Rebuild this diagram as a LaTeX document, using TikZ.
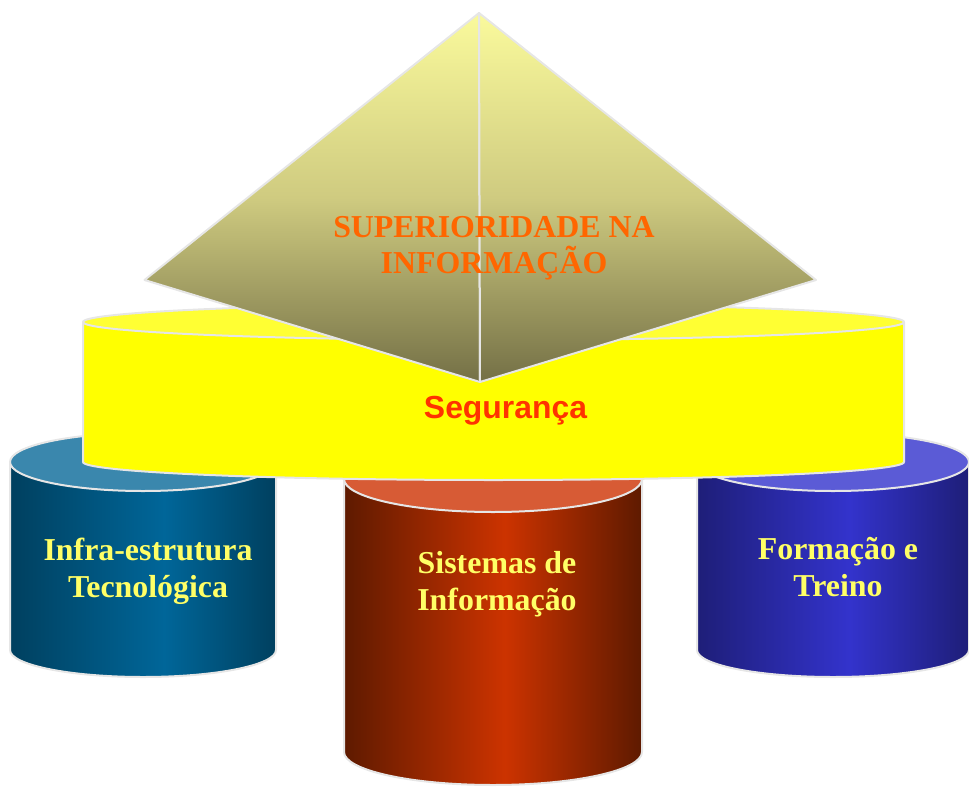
\documentclass[tikz,border=0pt]{standalone}
\usepackage{fontspec}
\setmainfont{Liberation Serif}
\setsansfont{Liberation Sans}
\definecolor{edgegray}{HTML}{E6E6E6}
\definecolor{LBd}{HTML}{00405F}
\definecolor{LBp}{HTML}{006699}
\definecolor{LBtop}{HTML}{3A87AD}
\definecolor{MRd}{HTML}{5E1A00}
\definecolor{MRp}{HTML}{CC3300}
\definecolor{MRtop}{HTML}{D75B35}
\definecolor{RBd}{HTML}{1E1E78}
\definecolor{RBp}{HTML}{3333CC}
\definecolor{RBtop}{HTML}{5B5BD6}
\definecolor{segbody}{HTML}{FFFF00}
\definecolor{segtop}{HTML}{FFFF33}
\definecolor{pyrtop}{HTML}{FAFA9C}
\definecolor{pyrmid}{HTML}{CFCB80}
\definecolor{pyrbot}{HTML}{747046}
\definecolor{lbltext}{HTML}{FFFF66}
\definecolor{pyrtext}{HTML}{FF6600}
\definecolor{segtext}{HTML}{FF3300}
\pgfdeclarehorizontalshading{leftbody}{100bp}{color(0bp)=(LBd); color(25bp)=(LBd); color(54bp)=(LBp); color(75bp)=(LBd); color(100bp)=(LBd)}
\pgfdeclarehorizontalshading{midbody}{100bp}{color(0bp)=(MRd); color(25bp)=(MRd); color(52bp)=(MRp); color(75bp)=(MRd); color(100bp)=(MRd)}
\pgfdeclarehorizontalshading{rightbody}{100bp}{color(0bp)=(RBd); color(25bp)=(RBd); color(53bp)=(RBp); color(75bp)=(RBd); color(100bp)=(RBd)}
\tikzset{
  outl/.style={draw=edgegray, line width=2bp, line join=round},
  cyltext/.style={font=\bfseries\fontsize{32}{37}\selectfont, text=lbltext, align=center, inner sep=0pt, anchor=base},
}
\begin{document}
\begin{tikzpicture}[x=1bp,y=-1bp]
\useasboundingbox (0,0) rectangle (969,787);
% left cylinder
\path[outl, shading=leftbody] (10,462) -- (10,650) arc[start angle=180, end angle=360, x radius=133bp, y radius=27bp] -- (276,462) -- cycle;
\path[outl, fill=LBtop] (143,462) ellipse[x radius=133bp, y radius=29bp];
% middle cylinder
\path[outl, shading=midbody] (344,479) -- (344,752) arc[start angle=180, end angle=360, x radius=149bp, y radius=33bp] -- (642,479) -- cycle;
\path[outl, fill=MRtop] (493,479) ellipse[x radius=149bp, y radius=33bp];
% right cylinder
\path[outl, shading=rightbody] (697,462) -- (697,650) arc[start angle=180, end angle=360, x radius=136bp, y radius=27bp] -- (969,462) -- cycle;
\path[outl, fill=RBtop] (833,462) ellipse[x radius=136bp, y radius=29bp];
% labels of lower cylinders (base = last line)
\node[cyltext] (infra) at (148,597) {Infra-estrutura\\Tecnológica};
\node[cyltext] (sist) at (497,610) {Sistemas de\\Informação};
\node[cyltext] (form) at (838,596) {Formação e\\Treino};
% security cylinder
\path[outl, fill=segbody] (83,322) -- (83,462) arc[start angle=180, end angle=360, x radius=410.5bp, y radius=18bp] -- (904,322) -- cycle;
\path[outl, fill=segtop] (493.5,322) ellipse[x radius=410.5bp, y radius=18bp];
\node[font=\sffamily\bfseries\fontsize{32}{36}\selectfont, text=segtext, inner sep=0pt, anchor=base] (seg) at (505.5,418) {Segurança};
% pyramid
\path[outl, top color=pyrtop, bottom color=pyrbot, middle color=pyrmid] (479,13) -- (144.5,280) -- (480,382) -- cycle;
\path[outl, top color=pyrtop, bottom color=pyrbot, middle color=pyrmid] (479,13) -- (816,280) -- (480,382) -- cycle;
\node[font=\bfseries\fontsize{32}{36}\selectfont, text=pyrtext, align=center, inner sep=0pt, anchor=base] (sup) at (494,273) {SUPERIORIDADE NA\\INFORMAÇÃO};
\end{tikzpicture}
\end{document}
